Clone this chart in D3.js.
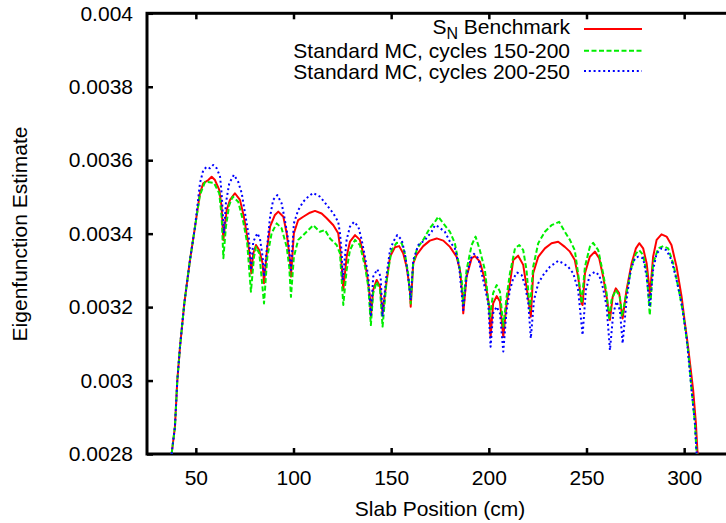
<!DOCTYPE html>
<html>
<head>
<meta charset="utf-8">
<script src="https://cdn.jsdelivr.net/npm/d3@7"></script>
<style>
  body { margin: 0; background: #fff; }
  svg { display: block; font-family: "Liberation Sans", Arial, Helvetica, sans-serif; }
  .axis text { font-size: 21px; fill: #000; }
  .axis line { stroke: #000; stroke-width: 2.5px; }
</style>
</head>
<body>
<svg width="726" height="523"></svg>
<script>
// Steep rise on the left, the same for all three curves
var riseX = [37.6, 39.3, 40.5, 41.9, 44.1, 47.0, 49.6];
var riseY = [0.0028, 0.002874, 0.002999, 0.003092, 0.003210, 0.003328, 0.003419];

// S_N benchmark
var snX = [52.1, 53.8, 56.4, 58.1, 59.8, 62.0, 63.2, 64.1, 65.8, 67.5, 70.0, 72.6, 74.6, 76.3, 77.7, 78.4,
    79.4, 80.8, 82.5, 84.2, 84.9, 86.6, 88.0, 90.5, 92.2, 94.8, 96.5, 98.2, 98.7, 100.2, 102.4, 105.0,
    108.4, 111.0, 114.4, 117.0, 120.4, 122.9, 123.8, 124.7, 125.5, 127.2, 128.9, 131.5, 134.0, 136.1,
    137.8, 139.1, 139.6, 140.8, 142.6, 144.3, 145.6, 147.3, 149.4, 151.9, 154.1, 156.2, 157.9, 159.6,
    160.0, 161.3, 163.0, 166.4, 169.8, 173.3, 176.7, 180.1, 183.5, 185.2, 186.6, 186.9, 188.6, 191.2,
    192.9, 195.4, 198.0, 200.2, 200.9, 202.2, 204.0, 205.7, 207.4, 209.1, 210.8, 212.5, 215.0, 217.6,
    219.3, 221.5, 222.7, 225.3, 228.7, 232.1, 235.5, 238.9, 241.5, 244.0, 245.7, 247.5, 248.0, 249.2,
    251.7, 254.3, 256.5, 258.5, 260.3, 262.0, 263.4, 265.0, 266.7, 268.5, 270.5, 273.1, 275.3, 277.0,
    279.0, 280.8, 282.1, 282.4, 284.1, 285.9, 288.4, 291.0, 293.5, 296.1, 298.7, 300.4, 302.0, 304.6,
    306.0, 306.8, 307.0];
var snY = [0.003510, 0.003537, 0.003546, 0.003555, 0.003546, 0.003519, 0.003473, 0.003383, 0.003464,
    0.003492, 0.003510, 0.003492, 0.003446, 0.003392, 0.003337, 0.003292, 0.003346, 0.003369, 0.003355,
    0.003319, 0.003265, 0.003364, 0.003419, 0.003451, 0.003460, 0.003446, 0.003401, 0.003328, 0.003283,
    0.003401, 0.003437, 0.003446, 0.003457, 0.003462, 0.003455, 0.003442, 0.003423, 0.003401, 0.003364,
    0.003310, 0.003247, 0.003337, 0.003378, 0.003396, 0.003383, 0.003337, 0.003283, 0.003228, 0.003174,
    0.003247, 0.003274, 0.003256, 0.003183, 0.003256, 0.003337, 0.003363, 0.003366, 0.003346, 0.003310,
    0.003247, 0.003201, 0.003319, 0.003342, 0.003366, 0.003381, 0.003387, 0.003381, 0.003364, 0.003337,
    0.003301, 0.003228, 0.003183, 0.003283, 0.003333, 0.003339, 0.003324, 0.003274, 0.003201, 0.003119,
    0.003210, 0.003230, 0.003215, 0.003119, 0.003210, 0.003265, 0.003328, 0.003340, 0.003315, 0.003256,
    0.003174, 0.003292, 0.003337, 0.003360, 0.003374, 0.003378, 0.003364, 0.003351, 0.003328, 0.003283,
    0.003210, 0.003206, 0.003292, 0.003337, 0.003351, 0.003333, 0.003283, 0.003228, 0.003165, 0.003228,
    0.003251, 0.003238, 0.003169, 0.003247, 0.003319, 0.003360, 0.003374, 0.003360, 0.003319, 0.003256,
    0.003228, 0.003337, 0.003383, 0.003398, 0.003392, 0.003369, 0.003310, 0.003228, 0.003156, 0.003092,
    0.002974, 0.002884, 0.002806, 0.0028];

// Standard MC, cycles 150-200
var mcAX = [52.1, 54.7, 56.9, 59.3, 62.0, 63.2, 64.1, 65.4, 67.1, 68.9, 71.7, 74.3, 76.3, 78.2, 79.8, 80.8,
    82.5, 84.9, 86.6, 88.8, 91.4, 93.9, 96.5, 97.8, 98.7, 100.2, 102.4, 105.0, 107.6, 110.1, 113.5, 116.1,
    118.7, 122.1, 123.8, 125.5, 127.2, 128.9, 131.5, 134.0, 136.6, 138.3, 139.6, 140.8, 142.6, 144.3,
    145.6, 147.7, 150.2, 152.8, 155.4, 157.0, 158.7, 160.0, 161.3, 163.3, 166.4, 169.8, 172.4, 174.1,
    176.7, 180.1, 182.6, 184.3, 186.1, 186.9, 188.6, 191.2, 193.2, 195.4, 198.0, 200.6, 202.2, 204.0,
    205.7, 207.4, 209.1, 210.8, 213.4, 215.6, 217.6, 219.3, 221.0, 222.7, 225.3, 228.7, 232.1, 236.0,
    238.9, 241.5, 244.0, 245.7, 247.5, 249.2, 251.7, 253.4, 256.0, 258.5, 260.3, 261.6, 262.8, 265.0,
    267.1, 268.1, 270.5, 273.1, 275.3, 277.0, 279.0, 280.8, 282.4, 284.1, 286.7, 289.3, 291.8, 294.4,
    296.9, 299.5, 302.0, 303.8, 305.5, 306.3, 306.5];
var mcAY = [0.003505, 0.003541, 0.003540, 0.003538, 0.003510, 0.003446, 0.003333, 0.003419, 0.003478,
    0.003501, 0.003487, 0.003432, 0.003374, 0.003242, 0.003337, 0.003364, 0.003346, 0.003210, 0.003337,
    0.003401, 0.003428, 0.003415, 0.003364, 0.003310, 0.003228, 0.003337, 0.003383, 0.003396, 0.003410,
    0.003423, 0.003405, 0.003410, 0.003387, 0.003369, 0.003346, 0.003206, 0.003301, 0.003355, 0.003383,
    0.003369, 0.003310, 0.003256, 0.003151, 0.003238, 0.003269, 0.003247, 0.003147, 0.003274, 0.003355,
    0.003375, 0.003374, 0.003346, 0.003292, 0.003210, 0.003319, 0.003360, 0.003383, 0.003415, 0.003432,
    0.003446, 0.003428, 0.003405, 0.003374, 0.003328, 0.003274, 0.003210, 0.003301, 0.003369, 0.003392,
    0.003355, 0.003301, 0.003174, 0.003238, 0.003260, 0.003242, 0.003147, 0.003228, 0.003292, 0.003360,
    0.003369, 0.003355, 0.003301, 0.003192, 0.003310, 0.003374, 0.003405, 0.003423, 0.003432, 0.003405,
    0.003383, 0.003355, 0.003292, 0.003210, 0.003310, 0.003364, 0.003375, 0.003355, 0.003292, 0.003238,
    0.003165, 0.003219, 0.003247, 0.003228, 0.003174, 0.003238, 0.003310, 0.003346, 0.003355, 0.003342,
    0.003292, 0.003178, 0.003319, 0.003360, 0.003366, 0.003360, 0.003319, 0.003256, 0.003183, 0.003083,
    0.002974, 0.002884, 0.002806, 0.0028];

// Standard MC, cycles 200-250
var mcBX = [52.1, 53.8, 55.6, 57.2, 58.9, 60.7, 62.4, 63.2, 64.4, 65.4, 67.1, 69.5, 71.7, 73.5, 75.2, 76.9,
    77.7, 78.2, 79.4, 81.5, 82.8, 84.2, 84.9, 86.3, 88.0, 89.6, 91.7, 93.9, 95.6, 97.3, 98.7, 100.2, 102.4,
    105.0, 107.6, 110.1, 113.5, 117.0, 120.4, 122.9, 123.8, 124.7, 125.2, 127.2, 128.9, 131.0, 133.2,
    134.9, 136.6, 138.3, 139.6, 140.8, 142.9, 144.6, 145.6, 147.3, 149.4, 151.1, 153.1, 155.4, 157.0,
    158.7, 160.0, 161.3, 163.9, 167.3, 170.7, 172.4, 174.1, 177.5, 180.1, 182.6, 184.8, 186.9, 188.6,
    190.8, 192.4, 194.6, 197.1, 199.7, 200.9, 202.2, 204.0, 205.7, 207.4, 209.1, 210.8, 212.5, 214.5,
    216.8, 218.5, 220.2, 221.5, 223.1, 225.3, 227.8, 231.3, 235.5, 238.1, 240.6, 243.2, 245.7, 248.0,
    249.7, 251.7, 254.3, 256.5, 258.5, 260.3, 262.0, 263.7, 265.4, 267.1, 268.5, 270.5, 272.6, 274.8,
    276.5, 279.0, 280.8, 282.4, 284.1, 285.9, 288.4, 291.0, 293.5, 296.1, 298.7, 301.2, 303.8, 305.5,
    306.3, 306.5];
var mcBY = [0.003537, 0.003573, 0.003582, 0.003578, 0.003587, 0.003578, 0.003555, 0.003510, 0.003401,
    0.003483, 0.003537, 0.003560, 0.003541, 0.003510, 0.003455, 0.003401, 0.003355, 0.003301, 0.003378,
    0.003401, 0.003387, 0.003337, 0.003283, 0.003355, 0.003446, 0.003492, 0.003505, 0.003483, 0.003437,
    0.003383, 0.003301, 0.003428, 0.003464, 0.003487, 0.003501, 0.003511, 0.003501, 0.003478, 0.003455,
    0.003432, 0.003401, 0.003346, 0.003274, 0.003383, 0.003419, 0.003432, 0.003419, 0.003383, 0.003337,
    0.003283, 0.003174, 0.003283, 0.003303, 0.003283, 0.003174, 0.003274, 0.003355, 0.003378, 0.003396,
    0.003383, 0.003346, 0.003283, 0.003219, 0.003328, 0.003369, 0.003383, 0.003405, 0.003423, 0.003419,
    0.003405, 0.003378, 0.003360, 0.003310, 0.003192, 0.003283, 0.003333, 0.003345, 0.003333, 0.003274,
    0.003210, 0.003092, 0.003183, 0.003201, 0.003183, 0.003079, 0.003192, 0.003247, 0.003278, 0.003294,
    0.003287, 0.003260, 0.003210, 0.003115, 0.003219, 0.003265, 0.003287, 0.003310, 0.003326, 0.003319,
    0.003310, 0.003292, 0.003247, 0.003124, 0.003247, 0.003287, 0.003296, 0.003287, 0.003251, 0.003201,
    0.003083, 0.003183, 0.003215, 0.003192, 0.003101, 0.003219, 0.003301, 0.003333, 0.003337, 0.003333,
    0.003283, 0.003201, 0.003301, 0.003346, 0.003360, 0.003355, 0.003328, 0.003274, 0.003210, 0.003119,
    0.002974, 0.002884, 0.002806, 0.0028];

var xTicks = [50, 100, 150, 200, 250, 300];
var yTicks = [0.0028, 0.003, 0.0032, 0.0034, 0.0036, 0.0038, 0.004];
var yTickLabels = ['0.0028', '0.003', '0.0032', '0.0034', '0.0036', '0.0038', '0.004'];

var seriesNames = ['S_N Benchmark', 'Standard MC, cycles 150-200', 'Standard MC, cycles 200-250'];

var svg = d3.select('svg');

// plot frame; the right side falls just outside the picture
var frame = {l: 147, r: 733, t: 13.3, b: 454};

var xScale = d3.scaleLinear().domain([25, 325]).range([frame.l, frame.r]);
var yScale = d3.scaleLinear().domain([0.0028, 0.004]).range([frame.b, frame.t]);

svg.append('defs').append('clipPath')
    .attr('id', 'plotClip')
    .append('rect')
    .attr('x', frame.l).attr('y', frame.t)
    .attr('width', frame.r - frame.l).attr('height', frame.b - frame.t);

// axes with inward ticks
var xAxisG = svg.append('g')
    .attr('class', 'axis')
    .attr('transform', 'translate(0,' + frame.b + ')')
    .call(d3.axisBottom(xScale).tickValues(xTicks).tickSize(-6).tickPadding(16));

svg.append('g')
    .attr('class', 'axis')
    .attr('transform', 'translate(0,' + frame.t + ')')
    .call(d3.axisTop(xScale).tickValues(xTicks).tickSize(-6).tickFormat(''));

svg.append('g')
    .attr('class', 'axis')
    .attr('transform', 'translate(' + frame.l + ',0)')
    .call(d3.axisLeft(yScale).tickValues(yTicks).tickSize(-6).tickPadding(14)
        .tickFormat(function(d, i) { return yTickLabels[i]; }));

svg.selectAll('.axis .domain').remove();
svg.selectAll('.axis text').attr('font-family', null);

svg.append('rect')
    .attr('x', frame.l).attr('y', frame.t)
    .attr('width', frame.r - frame.l).attr('height', frame.b - frame.t)
    .attr('fill', 'none')
    .attr('stroke', '#000')
    .attr('stroke-width', 3);

// curves
function toPoints(xs, ys) {
    return xs.map(function(x, i) { return [x, ys[i]]; });
}

var lineGen = d3.line()
    .x(function(d) { return xScale(d[0]); })
    .y(function(d) { return yScale(d[1]); });

var curves = [
    {pts: toPoints(riseX.concat(snX), riseY.concat(snY)), color: '#ff0000', dash: null},
    {pts: toPoints(riseX.concat(mcAX), riseY.concat(mcAY)), color: '#00ee00', dash: '5,2.5'},
    {pts: toPoints(riseX.concat(mcBX), riseY.concat(mcBY)), color: '#0000ff', dash: '2,2.8'}
];

var plotG = svg.append('g').attr('clip-path', 'url(#plotClip)');

plotG.selectAll('.curve')
    .data(curves)
    .enter()
    .append('path')
    .attr('class', 'curve')
    .attr('d', function(d) { return lineGen(d.pts); })
    .attr('fill', 'none')
    .attr('stroke', function(d) { return d.color; })
    .attr('stroke-width', 2)
    .attr('stroke-dasharray', function(d) { return d.dash; })
    .attr('stroke-linejoin', 'round');

// legend
var legendRows = [34, 58, 79];
var legendLineY = [29, 50.7, 71];

var legendG = svg.append('g');
curves.forEach(function(c, i) {
    var t = legendG.append('text')
        .attr('x', 570)
        .attr('y', legendRows[i])
        .attr('text-anchor', 'end')
        .attr('font-size', 21);
    if (i === 0) {
        var parts = seriesNames[0].split(' ');
        var head = parts[0].split('_');
        t.append('tspan').text(head[0]);
        t.append('tspan').attr('font-size', 16).attr('dy', 5).text(head[1]);
        t.append('tspan').attr('dy', -5).text(' ' + parts.slice(1).join(' '));
    } else {
        t.text(seriesNames[i]);
    }
    legendG.append('line')
        .attr('x1', 584).attr('x2', 642)
        .attr('y1', legendLineY[i]).attr('y2', legendLineY[i])
        .attr('stroke', c.color)
        .attr('stroke-width', 2)
        .attr('stroke-dasharray', c.dash);
});

// axis titles
svg.append('text')
    .attr('x', 440)
    .attr('y', 516)
    .attr('text-anchor', 'middle')
    .attr('font-size', 21)
    .text('Slab Position (cm)');

svg.append('text')
    .attr('transform', 'translate(27,234) rotate(-90)')
    .attr('text-anchor', 'middle')
    .attr('font-size', 21)
    .text('Eigenfunction Estimate');
</script>
</body>
</html>
